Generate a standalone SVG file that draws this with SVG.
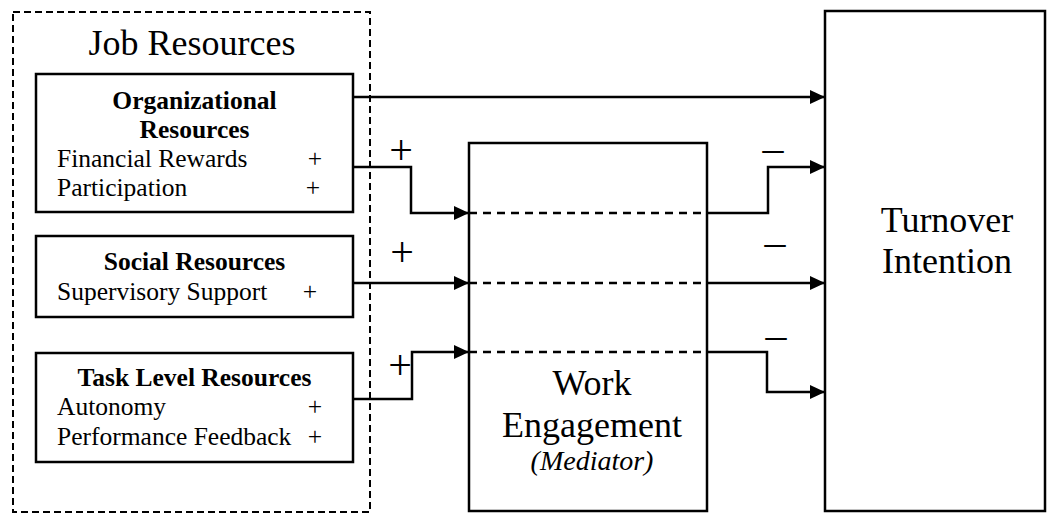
<svg xmlns="http://www.w3.org/2000/svg" width="1057" height="515" viewBox="0 0 1057 515">
<style>
text{font-family:"Liberation Serif","Times New Roman","DejaVu Serif",serif;fill:#000}
.box{fill:#fff;stroke:#000;stroke-width:2.5}
.t{font-size:25.5px}
.b{font-size:25.5px;font-weight:bold}
.big{font-size:36px}
.sign{font-size:42px}
.ln{fill:none;stroke:#000;stroke-width:2.5}
.dash{fill:none;stroke:#000;stroke-width:2.5;stroke-dasharray:8 6}
</style>
<defs>
<marker id="ah" markerUnits="userSpaceOnUse" markerWidth="16" markerHeight="14" refX="15" refY="7" orient="auto">
<path d="M0,0 L15,7 L0,14 z" fill="#000"/>
</marker>
</defs>
<g id="job-resources">
<rect x="13" y="12" width="357" height="500" fill="none" stroke="#000" stroke-width="2" stroke-dasharray="7 4"/>
<text x="192" y="55" class="big" text-anchor="middle">Job Resources</text>
</g>
<g id="organizational">
<rect class="box" x="36" y="74" width="317" height="138"/>
<text x="194.5" y="109" class="b" text-anchor="middle">Organizational</text>
<text x="194.5" y="138" class="b" text-anchor="middle">Resources</text>
<text x="57" y="167" class="t">Financial Rewards</text>
<text x="315" y="167" class="t" text-anchor="middle">+</text>
<text x="57" y="196" class="t">Participation</text>
<text x="313" y="196" class="t" text-anchor="middle">+</text>
</g>
<g id="social">
<rect class="box" x="36" y="236" width="317" height="81"/>
<text x="194.5" y="270" class="b" text-anchor="middle">Social Resources</text>
<text x="57" y="300" class="t">Supervisory Support</text>
<text x="310" y="300" class="t" text-anchor="middle">+</text>
</g>
<g id="task">
<rect class="box" x="36" y="353" width="317" height="109"/>
<text x="194.5" y="386" class="b" text-anchor="middle">Task Level Resources</text>
<text x="57" y="415" class="t">Autonomy</text>
<text x="315" y="415" class="t" text-anchor="middle">+</text>
<text x="57" y="445" class="t">Performance Feedback</text>
<text x="315" y="445" class="t" text-anchor="middle">+</text>
</g>
<g id="work-engagement">
<rect class="box" x="469" y="143" width="238" height="368"/>
<text x="592" y="395" class="big" text-anchor="middle">Work</text>
<text x="592" y="437" class="big" text-anchor="middle">Engagement</text>
<text x="592" y="470" font-size="28" font-style="italic" text-anchor="middle">(Mediator)</text>
</g>
<g id="turnover-intention">
<rect class="box" x="825" y="11" width="220" height="500"/>
<text x="947" y="232" class="big" text-anchor="middle">Turnover</text>
<text x="947" y="273" class="big" text-anchor="middle">Intention</text>
</g>
<g id="connectors">
<path class="ln" d="M353 97 H825" marker-end="url(#ah)"/>
<path class="ln" d="M353 167 H411 V213 H469" marker-end="url(#ah)"/>
<path class="dash" d="M469 213 H707"/>
<path class="ln" d="M707 213 H768 V167 H825" marker-end="url(#ah)"/>
<path class="ln" d="M353 283 H469" marker-end="url(#ah)"/>
<path class="dash" d="M469 283 H707"/>
<path class="ln" d="M707 283 H825" marker-end="url(#ah)"/>
<path class="ln" d="M353 399 H412 V352 H469" marker-end="url(#ah)"/>
<path class="dash" d="M469 352 H707"/>
<path class="ln" d="M707 352 H767 V392 H825" marker-end="url(#ah)"/>
<text x="401" y="163.5" class="sign" text-anchor="middle">+</text>
<text x="402" y="265.5" class="sign" text-anchor="middle">+</text>
<text x="400" y="378.5" class="sign" text-anchor="middle">+</text>
<text x="773" y="162" class="sign" text-anchor="middle">–</text>
<text x="775" y="256" class="sign" text-anchor="middle">–</text>
<text x="776" y="349" class="sign" text-anchor="middle">–</text>
</g>
</svg>
